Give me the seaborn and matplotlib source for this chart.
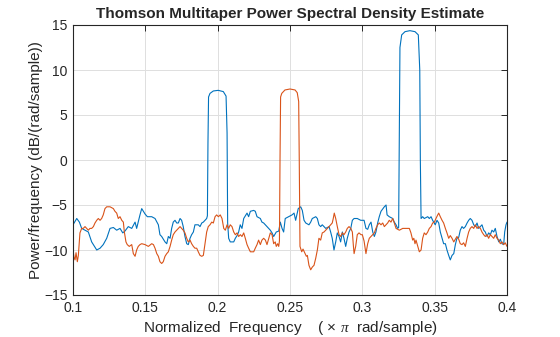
import matplotlib
matplotlib.use("Agg")
import matplotlib.pyplot as plt
import numpy as np
import pandas as pd
import seaborn as sns

# Normalized frequency (x pi rad/sample) and PSD (dB/(rad/sample)) for channel 1
freq_ch1 = [
    0.1000, 0.1026, 0.1044, 0.1060, 0.1083, 0.1106, 0.1129, 0.1164, 0.1187, 0.1209,
    0.1233, 0.1256, 0.1279, 0.1302, 0.1325, 0.1344, 0.1359, 0.1382, 0.1406, 0.1429,
    0.1440, 0.1463, 0.1475, 0.1498, 0.1514, 0.1544, 0.1567, 0.1590, 0.1601, 0.1613,
    0.1636, 0.1648, 0.1659, 0.1671, 0.1682, 0.1693, 0.1705, 0.1717, 0.1728, 0.1740,
    0.1751, 0.1762, 0.1774, 0.1786, 0.1797, 0.1809, 0.1820, 0.1832, 0.1843, 0.1866,
    0.1878, 0.1890, 0.1901, 0.1912, 0.1924, 0.1929, 0.1933, 0.1937, 0.1947, 0.1970,
    0.2004, 0.2039, 0.2058, 0.2065, 0.2069, 0.2076, 0.2087, 0.2111, 0.2122, 0.2134,
    0.2145, 0.2156, 0.2168, 0.2180, 0.2203, 0.2214, 0.2226, 0.2249, 0.2260, 0.2272,
    0.2295, 0.2306, 0.2318, 0.2341, 0.2364, 0.2376, 0.2387, 0.2405, 0.2422, 0.2433,
    0.2445, 0.2456, 0.2467, 0.2491, 0.2514, 0.2528, 0.2539, 0.2557, 0.2574, 0.2585,
    0.2597, 0.2609, 0.2631, 0.2643, 0.2654, 0.2678, 0.2689, 0.2700, 0.2712, 0.2723,
    0.2747, 0.2770, 0.2781, 0.2792, 0.2804, 0.2816, 0.2827, 0.2839, 0.2850, 0.2862,
    0.2873, 0.2885, 0.2896, 0.2908, 0.2920, 0.2931, 0.2943, 0.2965, 0.2989, 0.3012,
    0.3025, 0.3037, 0.3048, 0.3060, 0.3072, 0.3083, 0.3094, 0.3106, 0.3117, 0.3129,
    0.3152, 0.3164, 0.3171, 0.3186, 0.3210, 0.3221, 0.3233, 0.3244, 0.3251, 0.3256,
    0.3260, 0.3272, 0.3295, 0.3329, 0.3364, 0.3387, 0.3397, 0.3401, 0.3406, 0.3417,
    0.3428, 0.3452, 0.3463, 0.3475, 0.3486, 0.3504, 0.3516, 0.3528, 0.3539, 0.3551,
    0.3562, 0.3574, 0.3585, 0.3597, 0.3608, 0.3620, 0.3632, 0.3643, 0.3654, 0.3666,
    0.3677, 0.3689, 0.3700, 0.3712, 0.3724, 0.3735, 0.3746, 0.3758, 0.3770, 0.3781,
    0.3793, 0.3804, 0.3816, 0.3827, 0.3839, 0.3850, 0.3862, 0.3873, 0.3885, 0.3896,
    0.3908, 0.3919, 0.3931, 0.3943, 0.3954, 0.3965, 0.3977, 0.3984, 0.3993, 0.4000,
]
psd_ch1 = [
    -7.2, -6.5, -6.9, -7.6, -7.8, -8.0, -9.1, -10.0, -9.8, -9.4,
    -8.7, -7.6, -7.5, -7.8, -7.6, -8.1, -7.9, -7.4, -7.6, -6.9,
    -7.6, -6.1, -5.4, -6.0, -6.3, -6.3, -6.5, -7.2, -8.3, -8.5,
    -9.1, -9.3, -8.5, -8.7, -7.6, -6.9, -6.7, -7.0, -7.0, -6.5,
    -6.7, -7.4, -8.5, -9.3, -9.4, -8.7, -8.3, -8.0, -7.2, -7.2,
    -7.4, -7.0, -6.9, -6.7, -6.5, -6.2, 2.0, 7.0, 7.4, 7.67,
    7.74, 7.6, 7.1, 3.0, -7.0, -8.7, -9.1, -9.1, -8.7, -8.4,
    -8.0, -7.2, -7.6, -6.5, -5.9, -6.3, -5.7, -5.6, -5.7, -6.3,
    -6.5, -6.9, -7.0, -7.4, -7.8, -8.1, -8.5, -8.0, -7.9, -6.9,
    -7.6, -8.0, -6.5, -6.3, -6.1, -5.9, -6.7, -5.4, -5.2, -5.6,
    -6.7, -7.0, -7.2, -6.9, -6.5, -6.3, -6.5, -7.2, -7.4, -7.2,
    -7.6, -7.4, -8.0, -8.7, -10.0, -9.1, -8.1, -8.5, -9.1, -8.0,
    -8.7, -9.6, -8.7, -8.0, -7.6, -6.7, -6.5, -6.5, -6.7, -6.7,
    -7.6, -7.7, -7.2, -6.9, -8.0, -8.5, -8.0, -7.0, -6.3, -5.7,
    -5.2, -5.0, -6.1, -6.3, -6.5, -6.9, -7.2, -7.6, -7.5, 3.0,
    12.5, 13.9, 14.26, 14.37, 14.26, 13.9, 10.0, 0.0, -6.5, -6.3,
    -6.5, -6.3, -6.5, -6.3, -6.7, -7.2, -6.7, -7.0, -8.0, -8.7,
    -9.3, -9.3, -10.0, -10.6, -11.1, -10.6, -10.4, -9.4, -8.7, -8.6,
    -7.8, -7.4, -7.6, -7.4, -7.0, -6.7, -6.5, -6.7, -7.2, -7.4,
    -7.0, -7.6, -7.4, -7.2, -7.8, -8.0, -8.5, -8.1, -8.3, -7.8,
    -8.0, -7.6, -8.5, -9.1, -8.8, -9.3, -9.4, -8.0, -7.2, -6.9,
]

# Channel 2
freq_ch2 = [
    0.1000, 0.1007, 0.1014, 0.1021, 0.1030, 0.1037, 0.1044, 0.1048, 0.1060, 0.1071,
    0.1083, 0.1094, 0.1106, 0.1117, 0.1129, 0.1141, 0.1152, 0.1164, 0.1175, 0.1187,
    0.1198, 0.1209, 0.1221, 0.1233, 0.1256, 0.1279, 0.1290, 0.1302, 0.1313, 0.1325,
    0.1337, 0.1348, 0.1355, 0.1366, 0.1375, 0.1389, 0.1406, 0.1417, 0.1429, 0.1440,
    0.1451, 0.1463, 0.1475, 0.1498, 0.1521, 0.1544, 0.1556, 0.1567, 0.1579, 0.1590,
    0.1601, 0.1613, 0.1624, 0.1636, 0.1648, 0.1659, 0.1671, 0.1682, 0.1693, 0.1705,
    0.1717, 0.1728, 0.1740, 0.1751, 0.1762, 0.1774, 0.1786, 0.1797, 0.1809, 0.1820,
    0.1832, 0.1843, 0.1855, 0.1866, 0.1878, 0.1890, 0.1901, 0.1908, 0.1917, 0.1924,
    0.1935, 0.1947, 0.1959, 0.1970, 0.1982, 0.1993, 0.2005, 0.2018, 0.2030, 0.2042,
    0.2053, 0.2065, 0.2076, 0.2087, 0.2099, 0.2111, 0.2122, 0.2134, 0.2145, 0.2157,
    0.2168, 0.2180, 0.2191, 0.2203, 0.2214, 0.2226, 0.2249, 0.2260, 0.2272, 0.2283,
    0.2295, 0.2306, 0.2318, 0.2330, 0.2341, 0.2353, 0.2364, 0.2376, 0.2387, 0.2398,
    0.2405, 0.2415, 0.2422, 0.2427, 0.2431, 0.2435, 0.2443, 0.2465, 0.2500, 0.2535,
    0.2550, 0.2560, 0.2564, 0.2569, 0.2581, 0.2590, 0.2604, 0.2613, 0.2620, 0.2631,
    0.2643, 0.2654, 0.2666, 0.2678, 0.2689, 0.2700, 0.2712, 0.2723, 0.2735, 0.2747,
    0.2758, 0.2770, 0.2781, 0.2792, 0.2799, 0.2806, 0.2816, 0.2827, 0.2839, 0.2850,
    0.2862, 0.2873, 0.2885, 0.2896, 0.2908, 0.2920, 0.2931, 0.2938, 0.2943, 0.2954,
    0.2965, 0.2977, 0.2991, 0.3000, 0.3012, 0.3025, 0.3037, 0.3048, 0.3060, 0.3072,
    0.3083, 0.3094, 0.3106, 0.3117, 0.3129, 0.3141, 0.3152, 0.3164, 0.3175, 0.3186,
    0.3198, 0.3210, 0.3221, 0.3233, 0.3256, 0.3279, 0.3302, 0.3325, 0.3336, 0.3348,
    0.3356, 0.3364, 0.3371, 0.3383, 0.3394, 0.3406, 0.3417, 0.3428, 0.3440, 0.3452,
    0.3463, 0.3475, 0.3486, 0.3498, 0.3509, 0.3521, 0.3528, 0.3539, 0.3551, 0.3562,
    0.3574, 0.3585, 0.3597, 0.3608, 0.3620, 0.3632, 0.3643, 0.3654, 0.3666, 0.3677,
    0.3689, 0.3700, 0.3712, 0.3724, 0.3735, 0.3746, 0.3758, 0.3770, 0.3781, 0.3793,
    0.3804, 0.3816, 0.3827, 0.3839, 0.3850, 0.3862, 0.3873, 0.3885, 0.3896, 0.3908,
    0.3919, 0.3931, 0.3943, 0.3954, 0.3965, 0.3977, 0.3988, 0.4000,
]
psd_ch2 = [
    -10.0, -10.8, -11.1, -10.3, -11.3, -10.6, -9.1, -8.1, -7.6, -7.6,
    -7.4, -7.6, -7.8, -7.6, -7.6, -7.4, -7.0, -6.7, -6.5, -6.7,
    -6.5, -6.1, -5.4, -5.2, -5.2, -5.4, -5.7, -5.9, -6.5, -6.3,
    -6.7, -6.9, -8.0, -9.1, -9.4, -9.6, -9.4, -10.4, -10.7, -10.0,
    -9.6, -9.4, -9.3, -9.4, -9.6, -9.3, -9.4, -9.8, -10.4, -10.7,
    -11.3, -11.5, -11.3, -10.7, -10.4, -10.2, -9.6, -8.9, -8.3, -8.0,
    -7.8, -7.6, -7.4, -7.6, -7.8, -8.1, -8.7, -9.1, -8.9, -9.3,
    -9.6, -9.8, -9.8, -10.2, -10.6, -10.7, -10.6, -9.8, -8.7, -8.0,
    -7.4, -7.2, -6.9, -7.0, -6.3, -6.1, -6.3, -6.1, -6.5, -7.6,
    -7.8, -7.2, -7.6, -7.2, -7.4, -8.0, -8.3, -8.1, -8.5, -8.3,
    -8.5, -8.1, -8.7, -9.4, -9.8, -10.2, -10.2, -9.8, -9.4, -8.9,
    -9.4, -8.9, -8.7, -8.9, -9.4, -8.7, -8.1, -8.3, -9.3, -9.1,
    -9.6, -9.3, -9.6, -9.0, 0.0, 7.0, 7.4, 7.78, 7.89, 7.78,
    7.48, 6.5, 0.0, -9.6, -10.2, -9.9, -10.4, -10.7, -10.6, -11.7,
    -12.2, -11.9, -11.7, -10.9, -10.0, -8.7, -8.9, -8.1, -8.0, -7.8,
    -7.6, -7.4, -7.2, -7.0, -6.5, -5.9, -6.5, -7.4, -8.3, -8.5,
    -8.1, -8.3, -8.0, -7.6, -7.4, -7.6, -8.0, -9.5, -10.4, -9.6,
    -8.3, -8.1, -8.3, -8.3, -9.0, -10.4, -9.3, -8.7, -8.5, -8.3,
    -8.1, -7.6, -7.2, -7.0, -7.2, -7.0, -7.4, -7.2, -7.0, -6.7,
    -6.9, -6.5, -7.0, -7.6, -7.8, -7.6, -7.6, -7.6, -8.1, -8.9,
    -8.7, -9.3, -8.9, -9.6, -10.2, -10.0, -8.7, -8.1, -8.3, -8.0,
    -7.6, -7.4, -7.0, -6.9, -6.5, -6.1, -5.9, -6.3, -6.7, -7.0,
    -7.6, -8.1, -8.7, -8.4, -8.7, -9.1, -8.8, -8.5, -8.8, -9.3,
    -9.4, -9.2, -9.6, -8.7, -8.0, -7.6, -7.4, -7.6, -7.2, -7.6,
    -7.4, -7.6, -8.0, -8.3, -8.5, -8.3, -8.7, -8.3, -8.5, -8.7,
    -8.3, -8.7, -8.9, -9.3, -9.1, -9.4, -9.2, -9.6,
]

x_ticks = [0.1, 0.15, 0.2, 0.25, 0.3, 0.35, 0.4]
x_tick_labels = ["0.1", "0.15", "0.2", "0.25", "0.3", "0.35", "0.4"]
y_ticks = [-15, -10, -5, 0, 5, 10, 15]

df = pd.concat([
    pd.DataFrame({"freq": freq_ch1, "psd": psd_ch1, "channel": "1"}),
    pd.DataFrame({"freq": freq_ch2, "psd": psd_ch2, "channel": "2"}),
], ignore_index=True)

sns.set_theme(style="white")
plt.rcParams["font.family"] = ["Liberation Sans", "DejaVu Sans"]
plt.rcParams["mathtext.fontset"] = "custom"
plt.rcParams["mathtext.it"] = "Liberation Serif:italic"
plt.rcParams["mathtext.rm"] = "Liberation Sans"

text_color = "#262626"
fig = plt.figure(figsize=(5.6, 3.37), dpi=100)
ax = fig.add_axes([73 / 560, 1 - 295 / 337, 434 / 560, 270 / 337])

sns.lineplot(data=df, x="freq", y="psd", hue="channel",
             palette=["#0072BD", "#D95319"], estimator=None, sort=False,
             linewidth=0.8, legend=False, ax=ax)

ax.set_xlim(0.1, 0.4)
ax.set_ylim(-15, 15)
ax.set_xticks(x_ticks)
ax.set_xticklabels(x_tick_labels)
ax.set_yticks(y_ticks)
ax.grid(True, color="#dfdfdf", linewidth=0.7)
ax.set_axisbelow(True)
for side in ["top", "right", "bottom", "left"]:
    ax.spines[side].set_visible(True)
    ax.spines[side].set_color(text_color)
    ax.spines[side].set_linewidth(0.8)
ax.tick_params(direction="in", length=4, width=0.7, top=True, right=True,
               colors=text_color, labelsize=10, pad=4)

ax.set_title("Thomson Multitaper Power Spectral Density Estimate",
             fontsize=11, fontweight="bold", color=text_color, pad=5)
ax.set_xlabel(r"Normalized  Frequency    ( $\times$ $\mathit{\pi}$  rad/sample)",
              fontsize=11, color=text_color, labelpad=3)
ax.set_ylabel("Power/frequency (dB/(rad/sample))", fontsize=11,
              color=text_color, labelpad=1)

fig.savefig("out.png", dpi=100)
